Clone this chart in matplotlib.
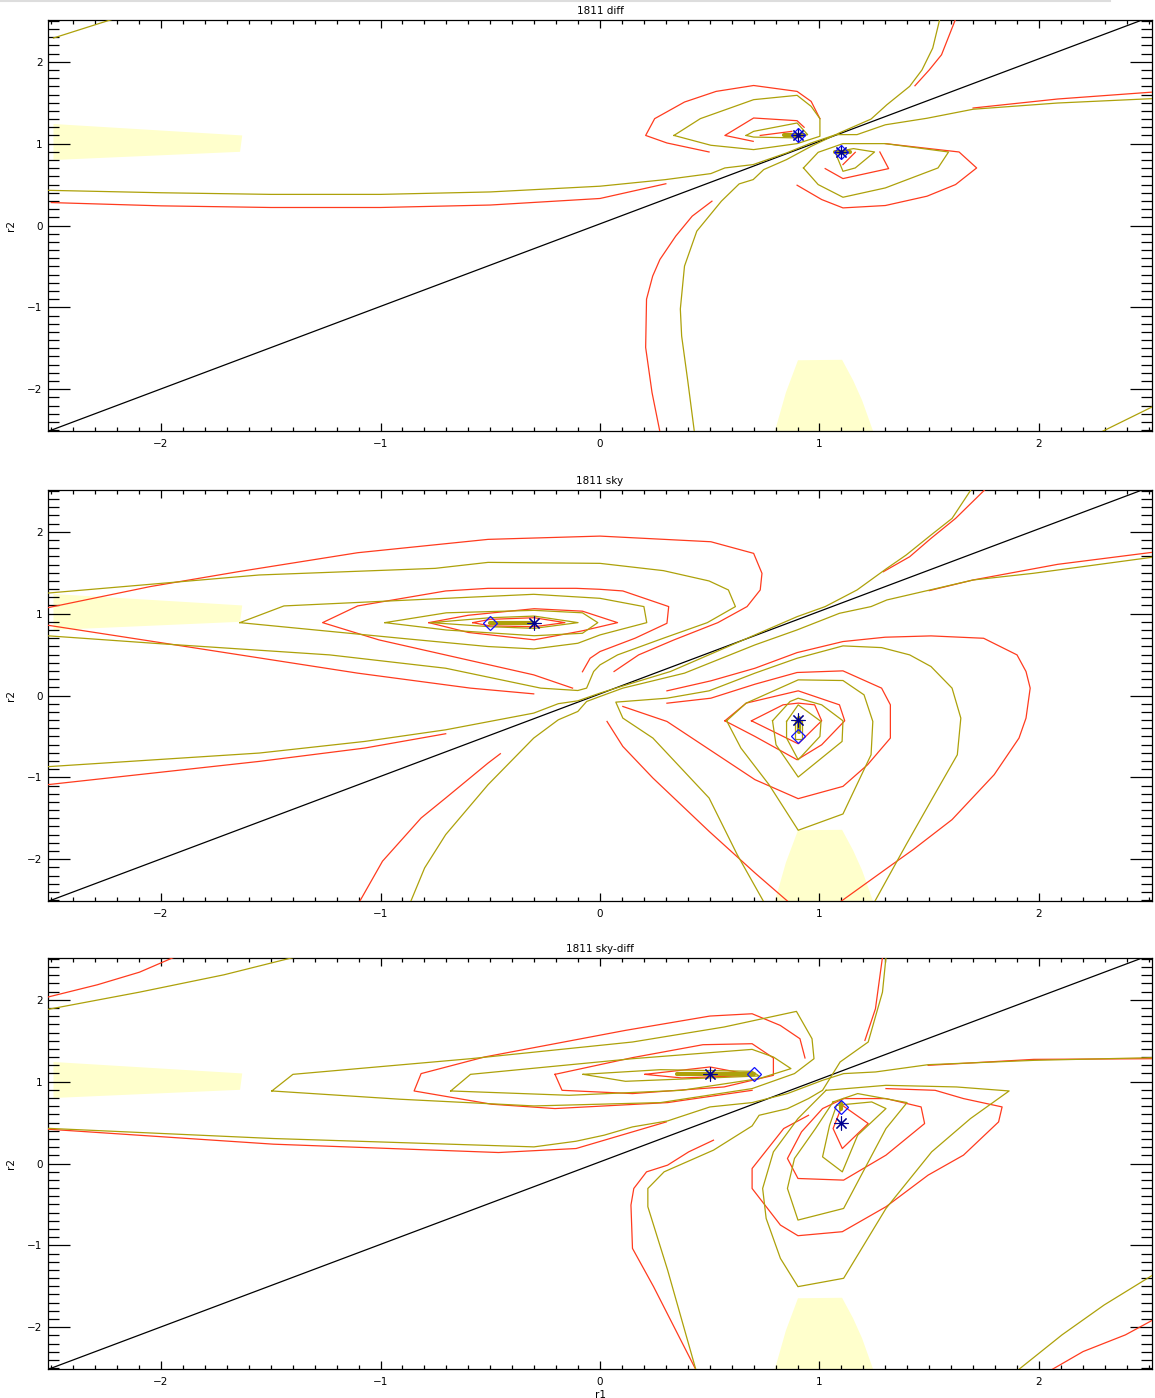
import matplotlib
matplotlib.use('Agg')
import matplotlib.pyplot as plt
from matplotlib.ticker import MultipleLocator
from matplotlib.patches import Polygon
from matplotlib.lines import Line2D

RED = '#FF3B1E'
OLIVE = '#ADA10A'
YELLOW = '#FFFFCC'

# ---------------- shared elements ----------------
diag_r1 = [-2.52, 2.47]
diag_r2 = [-2.52, 2.51]
patch_left = [(-2.49, 1.24), (-1.63, 1.10), (-1.64, 0.90), (-2.49, 0.80)]
patch_bottom = [(0.797, -2.51), (0.847, -2.04), (0.902, -1.646), (1.103, -1.64),
                (1.153, -1.89), (1.194, -2.134), (1.244, -2.51)]

# ---------------- panel 1: 1811 diff ----------------
diff_red = [
    [(-2.5, 0.28), (-2.0, 0.24), (-1.5, 0.22), (-1.0, 0.22), (-0.5, 0.25), (0.0, 0.33), (0.30, 0.51)],
    [(1.70, 1.435), (2.085, 1.545), (2.52, 1.63)],
    [(1.435, 1.707), (1.50, 1.90), (1.556, 2.085), (1.62, 2.52)],
    [(0.273, -2.52), (0.237, -2.04), (0.208, -1.49), (0.212, -0.90), (0.24, -0.618), (0.273, -0.415),
     (0.345, -0.13), (0.42, 0.114), (0.51, 0.297)],
    [(0.497, 0.898), (0.305, 1.008), (0.208, 1.10), (0.249, 1.305), (0.385, 1.508), (0.529, 1.638),
     (0.70, 1.71), (0.898, 1.638), (0.962, 1.516), (1.002, 1.305)],
    [(0.698, 1.028), (0.569, 1.10), (0.70, 1.313), (0.898, 1.28), (0.93, 1.20)],
    [(0.73, 1.10), (0.874, 1.15)],
    [(0.898, 0.492), (1.01, 0.317), (1.107, 0.215), (1.30, 0.244), (1.49, 0.358), (1.62, 0.50),
     (1.716, 0.703), (1.636, 0.898), (1.30, 1.0)],
    [(1.026, 0.695), (1.107, 0.573), (1.315, 0.695), (1.275, 0.898)],
    [(1.107, 0.744), (1.163, 0.894)],
]
diff_olive = [
    [(-2.49, 2.29), (-2.22, 2.52)],
    [(2.285, -2.52), (2.52, -2.21)],
    [(-2.52, 0.43), (-2.0, 0.40), (-1.5, 0.38), (-1.0, 0.38), (-0.5, 0.41), (0.0, 0.48), (0.297, 0.56),
     (0.505, 0.634), (0.569, 0.703), (0.698, 0.744), (0.85, 0.886), (0.962, 1.008), (1.075, 1.11),
     (1.171, 1.11), (1.30, 1.23), (1.49, 1.31), (1.70, 1.42), (2.085, 1.496), (2.52, 1.55)],
    [(0.43, -2.52), (0.40, -1.90), (0.372, -1.35), (0.366, -1.02), (0.385, -0.496), (0.441, -0.069),
     (0.553, 0.297), (0.634, 0.508), (0.698, 0.561), (0.746, 0.683), (0.85, 0.805), (0.962, 0.967),
     (1.09, 1.13), (1.235, 1.30), (1.307, 1.475), (1.411, 1.70), (1.467, 1.90), (1.516, 2.167), (1.548, 2.52)],
    [(0.337, 1.10), (0.457, 1.305), (0.70, 1.537), (0.898, 1.59), (0.962, 1.455), (1.002, 1.305),
     (1.002, 1.09), (0.898, 1.0), (0.70, 0.927), (0.505, 0.98), (0.337, 1.10)],
    [(0.666, 1.10), (0.70, 1.15), (0.898, 1.252), (0.946, 1.11), (0.898, 1.07), (0.70, 1.08), (0.666, 1.10)],
    [(0.927, 0.703), (0.994, 0.894), (1.107, 1.0), (1.30, 1.0), (1.588, 0.898), (1.54, 0.703),
     (1.30, 0.459), (1.107, 0.345), (0.994, 0.50), (0.927, 0.703)],
    [(1.071, 0.898), (1.107, 0.662), (1.163, 0.703), (1.251, 0.898), (1.155, 0.939), (1.071, 0.898)],
]
diff_olive_thick = [[(0.84, 1.10), (0.93, 1.10)], [(1.07, 0.90), (1.14, 0.90)]]
diff_stars = [(0.9, 1.1), (1.1, 0.9)]
diff_diamonds = [(0.9, 1.1), (1.1, 0.9)]

# ---------------- panel 2: 1811 sky ----------------
sky_red = [
    [(-2.52, 1.07), (-2.05, 1.33), (-1.649, 1.512), (-1.104, 1.744), (-0.51, 1.907), (0.0, 1.947),
     (0.505, 1.878), (0.70, 1.736), (0.738, 1.492), (0.73, 1.289), (0.67, 1.086), (0.537, 0.89),
     (0.337, 0.679), (0.176, 0.496), (0.064, 0.293)],
    [(-0.08, 0.29), (-0.045, 0.455), (0.0, 0.537), (0.16, 0.70), (0.305, 0.882), (0.313, 1.086),
     (0.104, 1.277), (0.0, 1.297), (-0.109, 1.309), (-0.51, 1.309), (-0.703, 1.277), (-1.104, 1.094),
     (-1.264, 0.89), (-1.007, 0.679), (-0.302, 0.252), (-0.125, 0.09)],
    [(-2.52, 0.86), (-2.034, 0.659), (-1.104, 0.273), (-0.59, 0.09), (-0.302, 0.02)],
    [(-0.78, 0.89), (-0.60, 0.98), (-0.30, 1.06), (-0.08, 1.03), (0.08, 0.89), (-0.08, 0.79),
     (-0.30, 0.68), (-0.60, 0.77), (-0.78, 0.89)],
    [(-0.58, 0.89), (-0.50, 0.93), (-0.30, 0.95), (-0.16, 0.89), (-0.30, 0.84), (-0.50, 0.85), (-0.58, 0.89)],
    [(-2.52, -1.09), (-1.553, -0.805), (-1.072, -0.642), (-0.703, -0.467)],
    [(1.291, 1.512), (1.411, 1.695), (1.508, 1.919), (1.62, 2.163), (1.756, 2.52)],
    [(1.50, 1.281), (1.70, 1.411), (2.085, 1.602), (2.52, 1.75)],
    [(-1.096, -2.52), (-0.991, -2.024), (-0.815, -1.496), (-0.703, -1.252), (-0.51, -0.825), (-0.454, -0.711)],
    [(0.305, 0.057), (0.505, 0.179), (0.706, 0.333), (0.898, 0.524), (1.107, 0.659), (1.299, 0.712),
     (1.508, 0.728), (1.748, 0.699), (1.90, 0.496), (1.941, 0.293), (1.96, 0.09), (1.941, -0.276),
     (1.909, -0.52), (1.796, -0.967), (1.604, -1.516), (1.427, -1.882), (1.331, -2.065), (1.095, -2.52)],
    [(0.032, -0.317), (0.104, -0.622), (0.241, -1.008), (0.497, -1.659), (0.706, -2.167), (0.858, -2.52)],
    [(0.305, -0.094), (0.505, -0.033), (0.706, 0.138), (0.898, 0.281), (1.107, 0.301), (1.283, 0.09),
     (1.323, -0.114), (1.323, -0.52), (1.219, -0.846), (1.107, -1.11), (0.903, -1.26), (0.706, -1.028),
     (0.305, -0.317), (0.104, -0.134)],
    [(0.569, -0.309), (0.706, -0.50), (0.898, -0.785), (1.01, -0.602), (1.115, -0.309), (1.091, -0.114),
     (0.903, 0.057), (0.666, -0.093), (0.569, -0.309)],
    [(0.69, -0.309), (0.834, -0.114), (0.903, -0.093), (0.978, -0.114), (1.01, -0.309), (0.903, -0.59),
     (0.69, -0.309)],
]
sky_olive = [
    [(-2.52, 1.25), (-1.553, 1.472), (-0.751, 1.553), (-0.51, 1.626), (0.0, 1.614), (0.289, 1.525),
     (0.497, 1.399), (0.585, 1.289), (0.617, 1.086), (0.489, 0.89), (0.289, 0.70), (0.08, 0.496),
     (0.0, 0.374), (-0.029, 0.293), (-0.061, 0.09), (-0.101, 0.061), (-0.27, 0.09), (-0.703, 0.333),
     (-1.232, 0.496), (-2.034, 0.638), (-2.52, 0.73)],
    [(-1.641, 0.89), (-1.44, 1.094), (-0.703, 1.187), (-0.302, 1.236), (0.0, 1.187), (0.20, 1.086),
     (0.213, 0.89), (0.0, 0.74), (-0.101, 0.638), (-0.302, 0.569), (-0.51, 0.598), (-0.911, 0.70),
     (-1.641, 0.89)],
    [(-0.98, 0.89), (-0.70, 1.01), (-0.30, 1.04), (-0.08, 1.01), (-0.01, 0.89), (-0.08, 0.76),
     (-0.30, 0.73), (-0.70, 0.80), (-0.98, 0.89)],
    [(-0.77, 0.89), (-0.50, 0.95), (-0.30, 0.97), (-0.10, 0.89), (-0.30, 0.82), (-0.50, 0.84), (-0.77, 0.89)],
    [(-2.52, -0.87), (-1.553, -0.703), (-1.072, -0.561), (-0.703, -0.419), (-0.302, -0.215), (-0.19, -0.10),
     (-0.101, -0.065), (0.0, 0.029), (0.096, 0.11), (0.321, 0.293), (0.706, 0.74), (0.898, 0.963),
     (1.026, 1.086), (1.171, 1.289), (1.307, 1.553), (1.395, 1.716), (1.508, 1.96), (1.604, 2.163),
     (1.692, 2.52)],
    [(-0.863, -2.52), (-0.799, -2.106), (-0.703, -1.699), (-0.51, -1.089), (-0.302, -0.52), (-0.19, -0.297),
     (-0.101, -0.195), (-0.061, -0.073), (0.0, -0.012), (0.104, 0.09), (0.385, 0.273), (0.706, 0.618),
     (0.898, 0.801), (1.091, 1.004), (1.235, 1.086), (1.307, 1.167), (1.70, 1.411), (1.973, 1.492),
     (2.52, 1.69)],
    [(0.746, -2.52), (0.625, -1.943), (0.497, -1.252), (0.241, -0.52), (0.104, -0.276), (0.072, -0.081),
     (0.305, -0.033), (0.497, 0.057), (0.706, 0.273), (0.898, 0.455), (1.107, 0.606), (1.283, 0.585),
     (1.411, 0.496), (1.508, 0.354), (1.604, 0.09), (1.644, -0.276), (1.628, -0.724), (1.524, -1.211),
     (1.395, -1.821), (1.251, -2.52)],
    [(0.577, -0.309), (0.666, -0.093), (0.903, 0.191), (1.107, 0.183), (1.203, 0.008), (1.243, -0.317),
     (1.235, -0.724), (1.107, -1.447), (0.903, -1.646), (0.77, -1.089), (0.642, -0.642), (0.577, -0.309)],
    [(0.786, -0.309), (0.866, -0.073), (0.903, -0.033), (1.01, -0.114), (1.107, -0.309), (1.103, -0.561),
     (0.903, -0.996), (0.802, -0.602), (0.786, -0.309)],
    [(0.85, -0.317), (0.903, -0.114), (1.007, -0.317), (1.002, -0.50), (0.903, -0.785), (0.85, -0.52),
     (0.85, -0.317)],
    [(0.89, -0.31), (0.92, -0.31), (0.92, -0.53), (0.89, -0.53), (0.89, -0.31)],
]
sky_olive_thick = [[(-0.50, 0.89), (-0.30, 0.89)], [(0.905, -0.27), (0.905, -0.45)]]
sky_stars = [(-0.3, 0.89), (0.9, -0.3)]
sky_diamonds = [(-0.5, 0.89), (0.9, -0.5)]

# ---------------- panel 3: 1811 sky-diff ----------------
sd_red = [
    [(-2.52, 2.03), (-2.29, 2.183), (-2.098, 2.337), (-1.94, 2.52)],
    [(-2.52, 0.42), (-1.488, 0.236), (-0.462, 0.134), (-0.109, 0.183), (0.148, 0.386), (0.302, 0.508)],
    [(1.495, 1.199), (1.977, 1.272), (2.52, 1.28)],
    [(0.437, -2.52), (0.244, -1.504), (0.148, -1.037), (0.141, -0.508), (0.154, -0.305), (0.212, -0.102),
     (0.308, -0.02), (0.404, 0.142), (0.517, 0.285)],
    [(1.207, 1.504), (1.255, 1.89), (1.287, 2.52)],
    [(0.693, 0.894), (0.308, 0.744), (-0.205, 0.671), (-0.494, 0.724), (-0.847, 0.886), (-0.815, 1.098),
     (-0.526, 1.301), (0.116, 1.626), (0.501, 1.801), (0.693, 1.829), (0.821, 1.687), (0.911, 1.524),
     (0.934, 1.289)],
    [(-0.205, 1.089), (-0.173, 0.894), (0.148, 0.854), (0.565, 0.935), (0.79, 1.077), (0.79, 1.289),
     (0.693, 1.463), (0.469, 1.451), (0.148, 1.293), (-0.205, 1.089)],
    [(0.205, 1.089), (0.501, 1.179), (0.703, 1.077), (0.372, 1.045), (0.205, 1.089)],
    [(1.303, 0.915), (1.527, 0.894), (1.656, 0.793), (1.832, 0.691), (1.816, 0.508), (1.656, 0.102),
     (1.495, -0.142), (1.303, -0.528), (1.104, -0.833), (0.902, -0.882), (0.822, -0.752), (0.693, -0.305),
     (0.693, -0.061), (0.837, 0.427), (0.95, 0.589)],
    [(1.11, 0.793), (1.303, 0.793), (1.463, 0.691), (1.479, 0.488), (1.303, 0.102), (1.11, -0.203),
     (0.902, -0.183), (0.854, 0.061), (0.918, 0.386), (1.014, 0.671), (1.11, 0.793)],
    [(1.104, 0.711), (1.222, 0.488), (1.104, 0.183), (1.062, 0.427), (1.104, 0.711)],
    [(2.057, -2.52), (2.201, -2.297), (2.394, -2.093), (2.52, -1.91)],
]
sd_olive = [
    [(-2.52, 1.88), (-2.098, 2.093), (-1.713, 2.305), (-1.392, 2.52)],
    [(-2.52, 0.43), (-1.488, 0.305), (-0.301, 0.203), (-0.109, 0.272), (0.019, 0.346), (0.148, 0.447),
     (0.308, 0.52), (0.501, 0.691), (0.693, 0.744), (0.854, 0.854), (1.014, 1.016), (1.11, 1.098),
     (1.255, 1.118), (1.495, 1.207), (1.977, 1.26), (2.52, 1.293)],
    [(0.437, -2.52), (0.308, -1.301), (0.218, -0.528), (0.218, -0.305), (0.292, -0.102), (0.517, 0.163),
     (0.693, 0.459), (0.725, 0.589), (0.854, 0.67), (0.95, 0.793), (1.014, 0.894), (1.094, 1.24),
     (1.222, 1.484), (1.287, 2.093), (1.303, 2.52)],
    [(-1.495, 0.886), (-1.399, 1.089), (-0.59, 1.28), (0.148, 1.484), (0.565, 1.667), (0.895, 1.858),
     (0.966, 1.524), (0.975, 1.28), (0.886, 1.098), (0.693, 0.915), (0.276, 0.744), (-0.301, 0.703),
     (-0.911, 0.785), (-1.495, 0.886)],
    [(-0.68, 0.886), (-0.59, 1.089), (0.148, 1.28), (0.693, 1.394), (0.79, 1.301), (0.87, 1.159),
     (0.725, 1.037), (0.372, 0.894), (-0.141, 0.833), (-0.68, 0.886)],
    [(-0.077, 1.089), (0.276, 1.146), (0.693, 1.126), (0.725, 1.069), (0.116, 1.004), (-0.077, 1.089)],
    [(1.03, 0.894), (1.303, 0.955), (1.624, 0.935), (1.864, 0.886), (1.688, 0.549), (1.511, 0.142),
     (1.303, -0.549), (1.11, -1.402), (0.902, -1.504), (0.822, -1.159), (0.757, -0.671), (0.741, -0.305),
     (0.79, 0.142), (0.902, 0.549), (1.03, 0.894)],
    [(1.062, 0.752), (1.174, 0.854), (1.399, 0.744), (1.303, 0.427), (1.11, -0.549), (0.902, -0.691),
     (0.854, -0.305), (0.886, 0.061), (0.982, 0.427), (1.062, 0.752)],
    [(1.078, 0.711), (1.238, 0.752), (1.303, 0.671), (1.174, 0.346), (1.104, -0.102), (1.014, 0.081),
     (1.046, 0.467), (1.078, 0.711)],
    [(1.906, -2.52), (2.105, -2.093), (2.297, -1.728), (2.52, -1.36)],
]
sd_olive_thick = [[(0.35, 1.089), (0.70, 1.089)], [(1.10, 0.66), (1.10, 0.74)]]
sd_stars = [(0.5, 1.09), (1.1, 0.49)]
sd_diamonds = [(0.7, 1.09), (1.1, 0.69)]

titles = ['1811 diff', '1811 sky', '1811 sky-diff']
panel_tops = [20, 490, 958]          # pixel rows of axes tops
W, H = 1155, 1398

fig = plt.figure(figsize=(W / 100, H / 100), dpi=100)
fig.add_artist(Line2D([0, 1110 / W], [1 - 1.0 / H, 1 - 1.0 / H], color='#DDDDDD', lw=1.5))

panels = [
    (diff_red, diff_olive, diff_olive_thick, diff_stars, diff_diamonds),
    (sky_red, sky_olive, sky_olive_thick, sky_stars, sky_diamonds),
    (sd_red, sd_olive, sd_olive_thick, sd_stars, sd_diamonds),
]

for i, (reds, olives, thick, stars, diamonds) in enumerate(panels):
    top = panel_tops[i]
    ax = fig.add_axes([48 / W, 1 - (top + 411) / H, 1104 / W, 411 / H])
    ax.set_xlim(-2.515, 2.515)
    ax.set_ylim(-2.51, 2.51)
    for poly in (patch_left, patch_bottom):
        ax.add_patch(Polygon(poly, closed=True, fc=YELLOW, ec='none', zorder=1))
    ax.plot(diag_r1, diag_r2, color='black', lw=0.9, zorder=2)
    for line in reds:
        xs, ys = zip(*line)
        ax.plot(xs, ys, color=RED, lw=0.9, zorder=3)
    for line in olives:
        xs, ys = zip(*line)
        ax.plot(xs, ys, color=OLIVE, lw=0.9, zorder=3)
    for line in thick:
        xs, ys = zip(*line)
        ax.plot(xs, ys, color=OLIVE, lw=3.0, solid_capstyle='round', zorder=3)
    sx, sy = zip(*stars)
    ax.plot(sx, sy, ls='none', marker=(8, 2, 0), ms=10, mew=0.8, mec='#000090', zorder=5)
    dx, dy = zip(*diamonds)
    ax.plot(dx, dy, ls='none', marker='D', ms=7, mew=0.9, mec='#1010FF', mfc='none', zorder=6)

    ax.xaxis.set_major_locator(MultipleLocator(1))
    ax.xaxis.set_minor_locator(MultipleLocator(0.1))
    ax.yaxis.set_major_locator(MultipleLocator(1))
    ax.yaxis.set_minor_locator(MultipleLocator(0.1))
    ax.tick_params(which='both', direction='in', top=True, right=True, width=0.9, labelsize=7.5)
    ax.tick_params(axis='x', which='major', length=6, pad=6)
    ax.tick_params(axis='x', which='minor', length=3)
    ax.tick_params(axis='y', which='major', length=16, pad=4)
    ax.tick_params(axis='y', which='minor', length=8)
    for sp in ax.spines.values():
        sp.set_linewidth(0.9)
    ax.set_title(titles[i], fontsize=7.5, pad=4)
    ax.set_ylabel('r2', fontsize=7.5, labelpad=8)
    if i == 2:
        ax.set_xlabel('r1', fontsize=7.5, labelpad=2)

fig.savefig('out.png', dpi=100)
